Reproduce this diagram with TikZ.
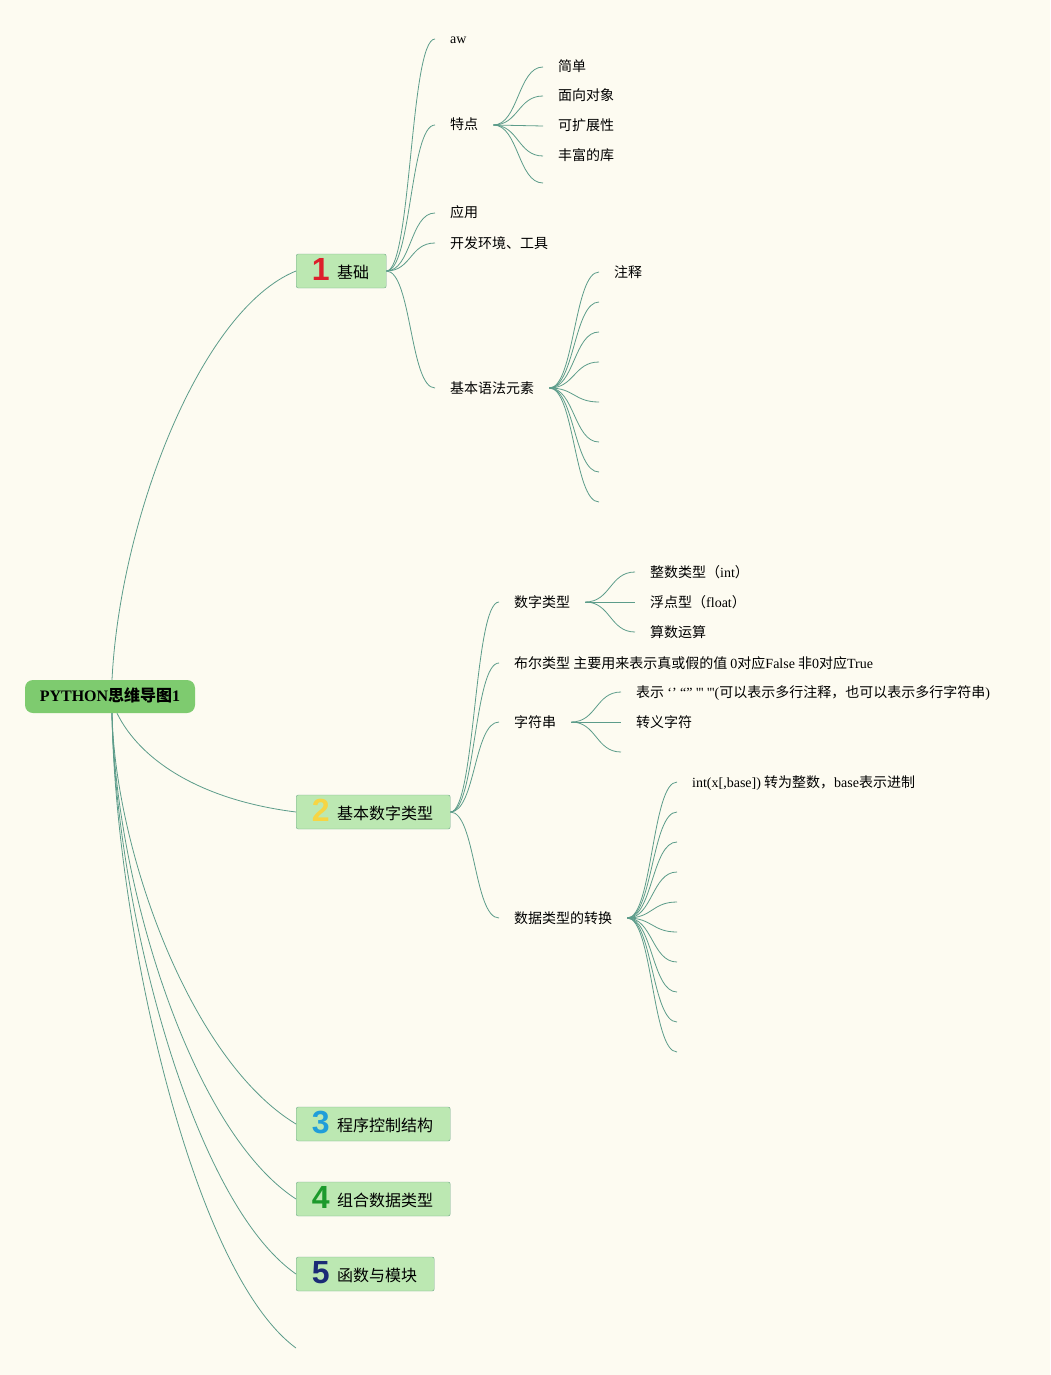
\documentclass[tikz,border=0pt]{standalone}
\usepackage{fontspec}
\setmainfont{Noto Sans CJK SC}
\newfontfamily\lat{Liberation Serif}
\newfontfamily\numfont{Liberation Sans}

\definecolor{paper}{HTML}{FDFBF1}
\definecolor{rootgreen}{HTML}{7ECB6F}
\definecolor{boxfill}{HTML}{BCE8B2}
\definecolor{boxline}{HTML}{72A98A}
\definecolor{branch}{HTML}{5C9C8A}
\definecolor{numred}{HTML}{DD1F2B}
\definecolor{numyellow}{HTML}{F6D544}
\definecolor{numblue}{HTML}{209ED9}
\definecolor{numgreen}{HTML}{1C9A2C}
\definecolor{numnavy}{HTML}{1B2B76}

\newcommand{\tnum}[2]{\makebox[15pt]{\raisebox{-2.5pt}{\numfont\bfseries\fontsize{32}{32}\selectfont\color{#1}#2}}\hspace{9pt}}

\tikzset{
  root/.style={fill=rootgreen, rounded corners=8pt, minimum width=170pt, minimum height=33pt,
    inner sep=0pt, text height=12pt, text depth=3pt, font=\fontsize{16}{18}\selectfont\bfseries},
  topic/.style={draw=boxline, fill=boxfill, rounded corners=2pt, anchor=west, minimum height=34pt,
    inner xsep=17pt, inner ysep=0pt, text height=20pt, text depth=6pt, font=\fontsize{16}{18}\selectfont},
  leaf/.style={anchor=west, inner xsep=15pt, inner ysep=0pt, text height=12pt, text depth=2pt,
    font=\fontsize{14}{16}\selectfont},
  stem/.style={draw=branch, line width=0.8pt},
  twig/.style={draw=branch, line width=0.8pt, to path={.. controls +(25,0) and +(-25,0) .. (\tikztotarget)}}
}

\begin{document}
\begin{tikzpicture}[x=1pt,y=-1pt]

      \fill[paper] (0,0) rectangle (1050,1375);
      \useasboundingbox (0,0) rectangle (1050,1375);

      \node[root] (root) at (110,696.5) {{\lat\bfseries PYTHON}思维导图{\lat\bfseries 1}};

      \begin{scope}[every node/.style={topic}]
        \node (n1) at (296,271)  {\tnum{numred}{1}基础};
        \node (n2) at (296,812)  {\tnum{numyellow}{2}基本数字类型};
        \node (n3) at (296,1124) {\tnum{numblue}{3}程序控制结构};
        \node (n4) at (296,1199) {\tnum{numgreen}{4}组合数据类型};
        \node (n5) at (296,1274) {\tnum{numnavy}{5}函数与模块};
      \end{scope}
      \coordinate (n6) at (296,1348);

      \begin{scope}[every node/.style={leaf}]
        % 基础
        \node (aw) at (435,39)  {{\lat aw}};
        \node (td) at (435,125) {特点};
        \node (yy) at (435,213) {应用};
        \node (kf) at (435,243) {开发环境、工具};
        \node (yf) at (435,388) {基本语法元素};
        \node (td1) at (543,67)  {简单};
        \node (td2) at (543,96)  {面向对象};
        \node (td3) at (543,126) {可扩展性};
        \node (td4) at (543,156) {丰富的库};
        \node (yf0) at (599,272) {注释};
        % 基本数字类型
        \node (sz) at (499,602) {数字类型};
        \node (be) at (499,663) {布尔类型 主要用来表示真或假的值 {\lat 0}对应{\lat False} 非{\lat 0}对应{\lat True}};
        \node (zf) at (499,722) {字符串};
        \node (zh) at (499,918) {数据类型的转换};
        \node (sz1) at (635,572) {整数类型（{\lat int}）};
        \node (sz2) at (635,602) {浮点型（{\lat float}）};
        \node (sz3) at (635,632) {算数运算};
        \node (zf1) at (621,692) {表示 {\lat ‘’ “” ''' '''(}可以表示多行注释，也可以表示多行字符串{\lat )}};
        \node (zf2) at (621,722) {转义字符};
        \node (zh0) at (677,782) {{\lat int(x[,base])} 转为整数，{\lat base}表示进制};
      \end{scope}

      \coordinate (td5) at (543,183);
      \coordinate (zf3) at (621,752);

      \draw[stem] ([xshift=2pt]root.north) .. controls (120,520) and (200,310) .. (n1.west);
      \draw[stem] ([xshift=7pt]root.south) .. controls (140,760) and (200,800) .. (n2.west);
      \draw[stem] ([xshift=2pt]root.south) .. controls (115,850) and (190,1060) .. (n3.west);
      \draw[stem] ([xshift=2pt]root.south) .. controls (115,880) and (190,1130) .. (n4.west);
      \draw[stem] ([xshift=2pt]root.south) .. controls (115,900) and (190,1200) .. (n5.west);
      \draw[stem] ([xshift=2pt]root.south) .. controls (115,920) and (190,1270) .. (n6);

      \begin{scope}[every edge/.style={twig}]
        \foreach \t in {aw,td,yy,kf,yf}
          \path (n1.east) edge (\t.west);
        \foreach \t in {td1,td2,td3,td4}
          \path (td.east) edge (\t.west);
        \path (td.east) edge (td5);
        \path (yf.east) edge (yf0.west);
        \foreach \y [count=\i] in {302,332,362,402,442,472,502} {
          \coordinate (yf\i) at (599,\y);
          \path (yf.east) edge (yf\i);
        }

        \foreach \t in {sz,be,zf,zh}
          \path (n2.east) edge (\t.west);
        \foreach \t in {sz1,sz2,sz3}
          \path (sz.east) edge (\t.west);
        \foreach \t in {zf1,zf2}
          \path (zf.east) edge (\t.west);
        \path (zf.east) edge (zf3);
        \path (zh.east) edge (zh0.west);
        \foreach \i in {1,...,9} {
          \coordinate (zh\i) at (677,782+30*\i);
          \path (zh.east) edge (zh\i);
        }
      \end{scope}

    \end{tikzpicture}
\end{document}
